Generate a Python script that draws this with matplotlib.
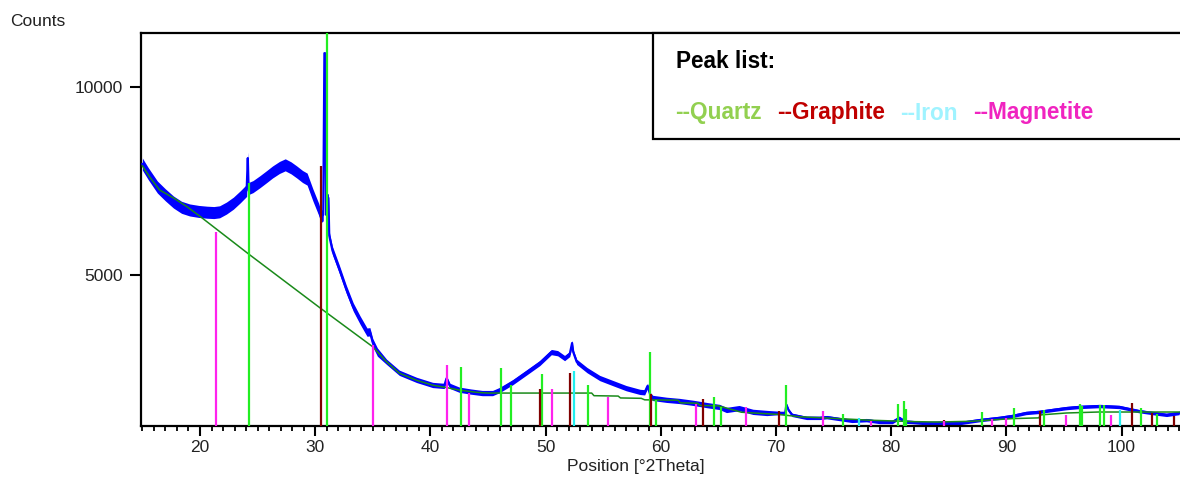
import matplotlib
matplotlib.use("Agg")
import matplotlib.pyplot as plt
from matplotlib.patches import Rectangle
from matplotlib.ticker import MultipleLocator, FixedLocator
import numpy as np

# observed pattern (centre of the noisy trace) and half-width of its noise band
obs_x = [15.0, 15.5, 16.3, 17.0, 17.7, 18.4, 19.1, 19.9, 20.6, 21.2, 21.7, 22.3, 22.9, 23.5,
         24.05, 24.15, 24.22, 24.6, 25.2, 25.8, 26.3, 26.9, 27.4, 27.9, 28.4, 28.9, 29.3, 29.8,
         30.3, 30.5, 30.7, 30.8, 30.86, 30.95, 31.05, 31.15, 31.22, 31.5, 32.1, 32.7, 33.3, 33.9,
         34.5, 34.75, 35.0, 35.4, 36.2, 37.3, 38.8, 40.2, 41.2, 41.4, 41.7, 42.5, 43.5, 44.5,
         45.4, 46.0, 47.15, 48.4, 49.5, 50.5, 51.05, 51.65, 52.1, 52.3, 52.4, 52.7, 53.6, 54.7,
         55.8, 57.0, 58.2, 58.6, 58.85, 59.1, 59.3, 60.5, 61.6, 62.8, 64.0, 65.1, 65.7, 66.8,
         68.0, 69.2, 70.3, 70.8, 70.9, 71.1, 71.4, 72.65, 73.8, 74.4, 75.5, 76.6, 77.85, 79.0,
         80.1, 80.7, 81.2, 81.8, 83.05, 84.2, 85.9, 87.65, 89.4, 90.5, 91.7, 92.85, 94.0, 95.2,
         96.3, 98.1, 99.8, 101.5, 102.65, 103.9, 105.0]
obs_y = [7950, 7700, 7340, 7130, 6940, 6800, 6730, 6690, 6670, 6660, 6680, 6780, 6910, 7080,
         7250, 8110, 7300, 7350, 7480, 7620, 7740, 7860, 7930, 7850, 7740, 7620, 7550, 7130,
         6750, 6550, 6600, 10900, 10900, 6600, 7050, 7050, 6050, 5650, 5150, 4620, 4150, 3800,
         3480, 3490, 3200, 2950, 2690, 2400, 2210, 2075, 2050, 2250, 2050, 1950, 1900, 1860,
         1860, 1940, 2150, 2420, 2660, 2950, 2920, 2790, 2900, 3190, 2950, 2690, 2470, 2260,
         2130, 1990, 1890, 1880, 2050, 1800, 1730, 1680, 1650, 1600, 1540, 1490, 1410, 1460,
         1360, 1330, 1330, 1330, 1550, 1400, 1280, 1200, 1200, 1220, 1170, 1120, 1140, 1090,
         1090, 1200, 1100, 1090, 1060, 1070, 1060, 1140, 1200, 1250, 1330, 1360, 1410, 1460,
         1490, 1515, 1490, 1380, 1330, 1280, 1330]
obs_spread = [160] * 31 + [0] * 2 + [110] * 13 + [70] * 40 + [45] * 33

# fitted background
bg_x = [15.0, 15.7, 16.5, 17.7, 18.9, 20.0, 24.3, 30.4, 35.0, 36.2, 37.3, 38.8, 40.2, 41.5,
        42.5, 44.0, 45.0, 54.0, 54.2, 56.3, 56.5, 58.3, 58.6, 61.5, 61.7, 63.2, 63.4, 65.0,
        67.0, 70.3, 72.0, 75.5, 78.0, 82.0, 84.0, 87.0, 90.5, 92.8, 93.0, 95.2, 98.0, 105.5]
bg_y = [7900, 7580, 7260, 7050, 6810, 6560, 5540, 4130, 3090, 2690, 2390, 2200, 2070, 2000,
        1940, 1880, 1860, 1860, 1790, 1780, 1730, 1720, 1680, 1670, 1600, 1590, 1530, 1520,
        1350, 1290, 1230, 1180, 1140, 1100, 1090, 1110, 1180, 1200, 1280, 1330, 1356, 1356]

# reference peak sticks
quartz_pos = [24.28, 31.04, 42.68, 46.16, 47.03, 49.69, 53.68, 59.03, 59.55, 64.58, 65.25,
              70.88, 75.85, 80.56, 81.08, 81.29, 87.88, 90.69, 93.29, 96.38, 96.55, 98.12,
              98.49, 101.67, 103.1]
quartz_top = [7447, 12500, 2553, 2526, 2074, 2367, 2074, 2952, 1675, 1755, 1489, 2074, 1303,
              1569, 1648, 1436, 1356, 1450, 1409, 1560, 1520, 1542, 1542, 1462, 1310]
graphite_pos = [30.49, 49.49, 52.09, 59.17, 63.68, 70.30, 84.55, 92.9, 100.86, 102.6, 104.56]
graphite_top = [7905, 1968, 2393, 1835, 1702, 1382, 1143, 1382, 1600, 1329, 1262]
iron_pos = [52.44, 77.24, 99.85]
iron_top = [2446, 1196, 1420]
magnetite_pos = [21.36, 35.03, 41.48, 43.36, 50.53, 55.41, 63.02, 67.41, 74.12, 78.25, 84.6,
                 88.77, 89.98, 95.18, 99.12]
magnetite_top = [6152, 3138, 2606, 1870, 1968, 1763, 1569, 1489, 1382, 1120, 1120, 1170, 1210,
                 1276, 1276]

phases = [("--Quartz", "#92d050", quartz_pos, quartz_top, "#22ee22"),
          ("--Graphite", "#c00000", graphite_pos, graphite_top, "#800000"),
          ("--Iron", "#9ff3ff", iron_pos, iron_top, "#22eeee"),
          ("--Magnetite", "#f024c0", magnetite_pos, magnetite_top, "#ff22ee")]

plt.rcParams['font.family'] = ['Liberation Sans', 'DejaVu Sans']

fig = plt.figure(figsize=(11.8, 4.8), dpi=100)
W, H = 1180.0, 480.0
ax = fig.add_axes([141 / W, (H - 426) / H, (1195 - 141) / W, (426 - 33) / H])

ox = np.array(obs_x)
oy = np.array(obs_y)
sp = np.array(obs_spread)
ax.fill_between(ox, oy - sp, oy + sp, color="#0000ff", lw=0, zorder=2)
ax.plot(ox, oy, color="#0000ff", lw=1.6, zorder=3)
ax.plot(bg_x, bg_y, color="#1a8a1a", lw=1.1, zorder=4)

for name, tcol, pos, top, scol in phases:
    ax.vlines(pos, 0, top, colors=scol, lw=1.6, zorder=5)

ax.set_xlim(14.88, 20 + (1195 - 200) / 11.52)
ax.set_ylim(984, 11436)

ax.xaxis.set_major_locator(FixedLocator([20, 30, 40, 50, 60, 70, 80, 90, 100]))
ax.xaxis.set_minor_locator(MultipleLocator(1))
ax.yaxis.set_major_locator(FixedLocator([5000, 10000]))
ax.tick_params(axis='x', which='major', direction='out', length=7, width=1.5,
               labelsize=12.5, pad=3, labelcolor="#222222")
ax.tick_params(axis='x', which='minor', direction='out', length=3.5, width=1.3)
ax.tick_params(axis='y', which='major', direction='out', length=8, width=1.5,
               labelsize=12.5, pad=5, labelcolor="#222222")
for s in ["left", "bottom", "top"]:
    ax.spines[s].set_linewidth(1.6)
ax.spines["right"].set_visible(False)

fig.text(10 / W, (H - 22) / H, "Counts", fontsize=12.5, color="#222222", va="center")
fig.text(636 / W, (H - 467) / H, "Position [°2Theta]", fontsize=12.5, color="#222222",
         va="center", ha="center")

# peak list box
box = Rectangle((653 / W, (H - 139) / H), (1190 - 653) / W, (139 - 33) / H,
                transform=fig.transFigure, facecolor="white", edgecolor="black",
                lw=1.6, zorder=10)
fig.patches.append(box)
fig.text(676 / W, (H - 61) / H, "Peak list:", fontsize=16.3, fontweight="bold",
         va="center", zorder=11)
x_starts = [675, 777, 900, 973]
for (name, tcol, pos, top, scol), xs in zip(phases, x_starts):
    fig.text(xs / W, (H - 113) / H, name, fontsize=16.3, fontweight="bold", color=tcol,
             va="center", zorder=11)

fig.savefig("out.png", dpi=100)
